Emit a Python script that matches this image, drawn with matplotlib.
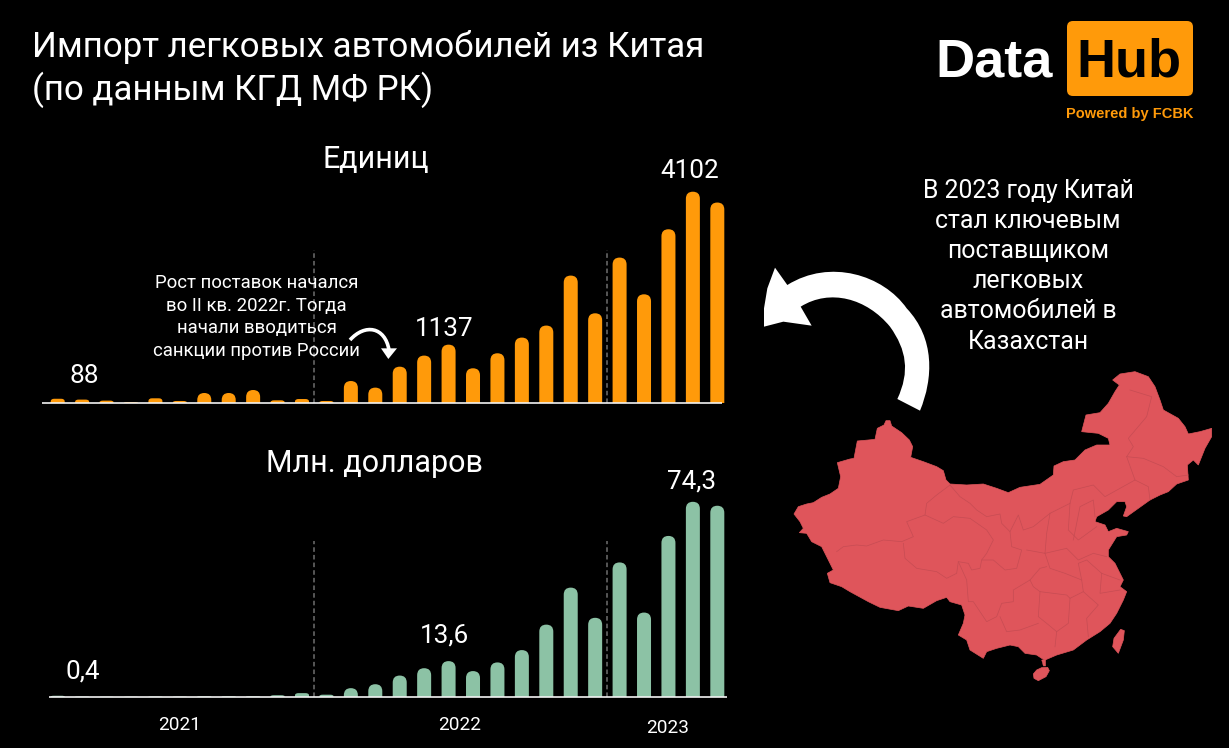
#!/usr/bin/env python3
"""Импорт легковых автомобилей из Китая: единицы и млн. долларов по месяцам."""
import matplotlib
matplotlib.use("Agg")
import matplotlib.pyplot as plt
from matplotlib.patches import BoxStyle, FancyBboxPatch, PathPatch, Polygon
from matplotlib.path import Path

plt.rcParams["font.family"] = ["Roboto", "DejaVu Sans"]

W, H = 1229, 748
BLACK = "#000000"
ORANGE = "#FF9A0A"
GREEN = "#8CC2A5"
RED = "#DF555B"
BORDER = "#C64C53"

# ── Данные ─────────────────────────────────────────────────────────────────────
units = [88, 72, 52, 25, 97, 45, 200, 200, 258, 58, 83, 45, 432, 304,
         710, 925, 1137, 679, 970, 1274, 1507, 2476, 1745, 2825, 2113, 3374, 4102, 3892]
usd = [0.4, 0.1, 0.05, 0.05, 0.1, 0.1, 0.2, 0.2, 0.2, 0.6, 1.4, 0.8, 3.3, 4.8,
       8.1, 10.9, 13.6, 9.8, 13.1, 17.8, 27.5, 41.6, 30.1, 51.2, 32.1, 61.3, 74.3, 72.8]
year_labels = ["2021", "2022", "2023"]
year_breaks = [10.5, 22.5]

china_outline = [
    (42, 462), (55, 440), (80, 432), (100, 428), (125, 412), (150, 402), (175, 385), (182, 350),
    (172, 308), (210, 297), (222, 295), (232, 243), (265, 240), (285, 238), (292, 205), (312, 195),
    (318, 182), (330, 182), (335, 198), (365, 218), (388, 240), (398, 260), (392, 292), (430, 305),
    (470, 320), (490, 332), (498, 360), (510, 372), (560, 375), (610, 372), (650, 385), (685, 398),
    (720, 382), (780, 373), (820, 345), (822, 318), (850, 305), (885, 300), (915, 270), (950, 255),
    (990, 255), (985, 235), (955, 220), (905, 215), (918, 165), (960, 158), (985, 130), (1005, 95),
    (1018, 75), (998, 60), (1020, 42), (1065, 35), (1105, 50), (1125, 80), (1140, 120), (1150, 150),
    (1195, 175), (1215, 200), (1225, 222), (1260, 215), (1295, 205), (1295, 230), (1275, 265),
    (1255, 315), (1240, 300), (1222, 315), (1225, 360), (1190, 372), (1165, 395), (1140, 405),
    (1110, 420), (1075, 445), (1040, 470), (1030, 468), (1040, 440), (1035, 425), (1010, 425),
    (985, 450), (950, 470), (945, 485), (975, 495), (985, 515), (1010, 505), (1045, 515),
    (1040, 525), (1010, 530), (985, 570), (985, 590), (1005, 610), (1020, 640), (1030, 660),
    (1020, 680), (1040, 695), (1030, 720), (1010, 760), (990, 790), (960, 815), (920, 840),
    (880, 870), (830, 885), (795, 900), (785, 895), (770, 885), (735, 880), (715, 860), (690, 855),
    (650, 865), (620, 875), (610, 895), (570, 870), (560, 840), (535, 825), (550, 790), (555, 765),
    (545, 735), (510, 725), (500, 712), (470, 722), (430, 745), (385, 738), (355, 752), (300, 742),
    (265, 725), (210, 695), (185, 680), (150, 668), (142, 640), (160, 630), (145, 600), (125, 560),
    (95, 545), (80, 520), (58, 518), (70, 505), (60, 485),
]
taiwan = [(1022, 808), (1033, 812), (1030, 840), (1015, 880), (998, 860), (1002, 835)]
hainan = [(785, 923), (803, 922), (808, 932), (798, 950), (775, 962), (762, 955), (760, 942), (770, 930)]
province_lines = [
    [(170, 575), (190, 560), (230, 555), (260, 558), (310, 540), (365, 545), (400, 530), (380, 485),
     (435, 465), (440, 430), (470, 405), (510, 375)],
    [(370, 550), (375, 595), (410, 625), (470, 635), (500, 655), (530, 640), (535, 605), (565, 610),
     (575, 630), (600, 625), (605, 600), (620, 580), (640, 540), (620, 510), (570, 475), (520, 470),
     (490, 490), (435, 465)],
    [(510, 375), (540, 410), (570, 430), (590, 450), (620, 470), (660, 462), (665, 490), (690, 515),
     (715, 465), (730, 510), (760, 500), (810, 460), (870, 430), (880, 390), (940, 375), (975, 410),
     (1065, 360), (1040, 290), (1060, 260), (1045, 235), (1100, 170), (1115, 110), (1050, 90)],
    [(535, 605), (560, 660), (565, 725), (580, 725), (620, 785), (650, 770), (665, 730), (700, 725),
     (700, 690), (750, 660), (780, 625), (800, 620)],
    [(690, 515), (695, 560), (725, 570), (710, 625), (675, 630), (640, 600), (605, 600)],
    [(810, 460), (800, 520), (795, 580), (740, 570)],
    [(795, 580), (810, 625), (855, 640), (905, 660), (910, 695), (870, 715), (860, 705), (780, 695),
     (760, 680), (750, 660)],
    [(780, 695), (775, 770), (800, 790), (830, 815), (825, 860)],
    [(870, 715), (865, 790), (830, 815)],
    [(910, 695), (955, 735), (920, 775), (925, 830)],
    [(660, 770), (680, 815), (720, 810), (775, 790)],
    [(870, 430), (865, 510), (895, 540), (950, 500)],
    [(795, 580), (860, 565), (895, 600), (940, 580), (980, 590)],
    [(905, 660), (895, 610), (920, 600), (965, 640), (1020, 660)],
    [(965, 640), (960, 700), (1020, 690)],
    [(1040, 290), (1090, 295), (1150, 320), (1190, 350), (1225, 345)],
    [(1065, 360), (1105, 380), (1110, 420)],
    [(880, 540), (900, 440), (940, 420), (945, 470)],
]

# ── Общий холст в пикселях: текст, логотип, стрелки, карта ─────────────────────
fig = plt.figure(figsize=(W / 100, H / 100), dpi=100, facecolor=BLACK)
bg = fig.add_axes([0, 0, 1, 1])
bg.set_xlim(0, W)
bg.set_ylim(H, 0)
bg.axis("off")


def to_px(points, dx, dy):
    return [(dx + x / 3, dy + y / 3) for x, y in points]


for part in (china_outline, taiwan, hainan):
    bg.add_patch(Polygon(to_px(part, 780, 360), closed=True, fc=RED, ec=RED, lw=0.5))
bg.add_patch(Polygon(to_px([(785, 900), (797, 898), (797, 918), (790, 918)], 780, 360),
                     closed=True, fc=RED, ec=RED, lw=0.3))
for line in province_lines:
    xs, ys = zip(*to_px(line, 780, 360))
    bg.plot(xs, ys, color=BORDER, lw=0.5, solid_joinstyle="round")

# большая стрелка
big = [(510, 467), (550, 370), (555, 250), (470, 160), (400, 60), (240, 10), (112, 90),
       (75, 38), (52, 100), (42, 160), (42, 215), (100, 200), (185, 212), (152, 155),
       (240, 100), (350, 130), (420, 215), (470, 285), (480, 350), (442, 432), (510, 467)]
big_codes = ([Path.MOVETO] + [Path.CURVE4] * 6 + [Path.LINETO] * 7 + [Path.CURVE4] * 6
             + [Path.CLOSEPOLY])
bg.add_patch(PathPatch(Path(to_px(big, 750, 255), big_codes), fc="white", ec="none"))

# маленькая стрелка
small = [(15, 75), (60, 25), (120, 35), (132, 105)]
bg.add_patch(PathPatch(Path(to_px(small, 345, 315), [Path.MOVETO] + [Path.CURVE4] * 3),
                       fc="none", ec="white", lw=2.6))
bg.add_patch(Polygon(to_px([(108, 100), (156, 100), (130, 132)], 345, 315), closed=True, fc="white", ec="none"))

# заголовок
bg.text(32, 47, "Импорт легковых автомобилей из Китая", color="white", fontsize=25.1, va="center")
bg.text(32, 90, "(по данным КГД МФ РК)", color="white", fontsize=25.1, va="center")

# логотип
bg.add_patch(FancyBboxPatch((1070, 24), 120, 69, boxstyle=BoxStyle("Round", pad=3, rounding_size=6),
                            fc=ORANGE, ec="none"))
bg.text(994.5, 62, "Data", color="white", fontsize=39, fontweight="bold",
        family="Liberation Sans", ha="center", va="center")
bg.text(1128.5, 62, "Hub", color=BLACK, fontsize=39, fontweight="bold",
        family="Liberation Sans", ha="center", va="center")
bg.text(1129.5, 114, "Powered by FCBK", color=ORANGE, fontsize=10.5, fontweight="bold",
        family="Liberation Sans", ha="center", va="center")

# подписи секций
bg.text(376, 159, "Единиц", color="white", fontsize=22, ha="center", va="center")
bg.text(375, 463, "Млн. долларов", color="white", fontsize=22, ha="center", va="center")

# правый текст
right_text = ["В 2023 году Китай", "стал ключевым", "поставщиком", "легковых", "автомобилей в", "Казахстан"]
for i, s in enumerate(right_text):
    bg.text(1028, 190.5 + i * 30.2, s, color="white", fontsize=17.9, ha="center", va="center")

# значения
for s, x, y in [("88", 84, 376), ("1137", 444, 329), ("4102", 690, 171),
                ("0,4", 83, 671), ("13,6", 444, 635), ("74,3", 692, 481)]:
    bg.text(x, y, s, color="white", fontsize=18.8, ha="center", va="center")

# годы
for s, x, y in zip(year_labels, [180, 460, 668], [724, 724, 727]):
    bg.text(x, y + 1, s, color="white", fontsize=13.7, ha="center", va="center")


# ── Столбики ───────────────────────────────────────────────────────────────────
def bar_panel(values, color, line_left, line_right, base_y, top_y, dash_y, scale):
    """scale: единиц данных на пиксель."""
    left, right = line_left - 5, line_right + 10
    ax = fig.add_axes([left / W, 1 - base_y / H, (right - left) / W, (base_y - top_y) / H])
    ax.patch.set_alpha(0)
    ax.set_xlim((left - 57.7) / 24.43, (right - 57.7) / 24.43)
    ax.set_ylim(0, (base_y - top_y) * scale)
    ax.axis("off")
    bar_w = 14 / 24.43
    for i, v in enumerate(values):
        h_px = v / scale
        # низкие столбики: те же по ширине, только углы скруглены
        rx = bar_w / 2 if h_px >= 7 else bar_w / 4
        r_y = 7 * scale if h_px >= 7 else max(h_px * 0.6, 0.3) * scale
        ax.add_patch(FancyBboxPatch(
            (i - bar_w / 2, -2 * r_y), bar_w, v + 2 * r_y,
            boxstyle=BoxStyle("Round", pad=0, rounding_size=rx),
            mutation_aspect=r_y / rx, fc=color, ec="none"))
    frac = (base_y - dash_y) / (base_y - top_y)
    for b in year_breaks:
        ax.axvline(b, ymin=0, ymax=frac, color="#6E6E6E", lw=1.1, linestyle=(0, (3, 2)), zorder=1)
    ax.hlines(0, (line_left - 57.7) / 24.43, (line_right - 57.7) / 24.43,
              color="#F2F2F2", lw=1.2, clip_on=False, zorder=4)
    return ax


bar_panel(units, ORANGE, 42, 722, 403.3, 185, 250, 4102 / 211.6)
bar_panel(usd, GREEN, 49, 727, 696.8, 495, 541, 74.3 / 195)

# пояснение поверх пунктира
note_ax = fig.add_axes([0, 0, 1, 1])
note_ax.set_xlim(0, W)
note_ax.set_ylim(H, 0)
note_ax.axis("off")
note = ["Рост поставок начался", "во II кв. 2022г. Тогда", "начали вводиться", "санкции против России"]
for i, s in enumerate(note):
    note_ax.text(256.5, 283 + i * 22.7, s, color="white", fontsize=13.4, ha="center", va="center")

fig.savefig("out.png", dpi=100, facecolor=BLACK)
